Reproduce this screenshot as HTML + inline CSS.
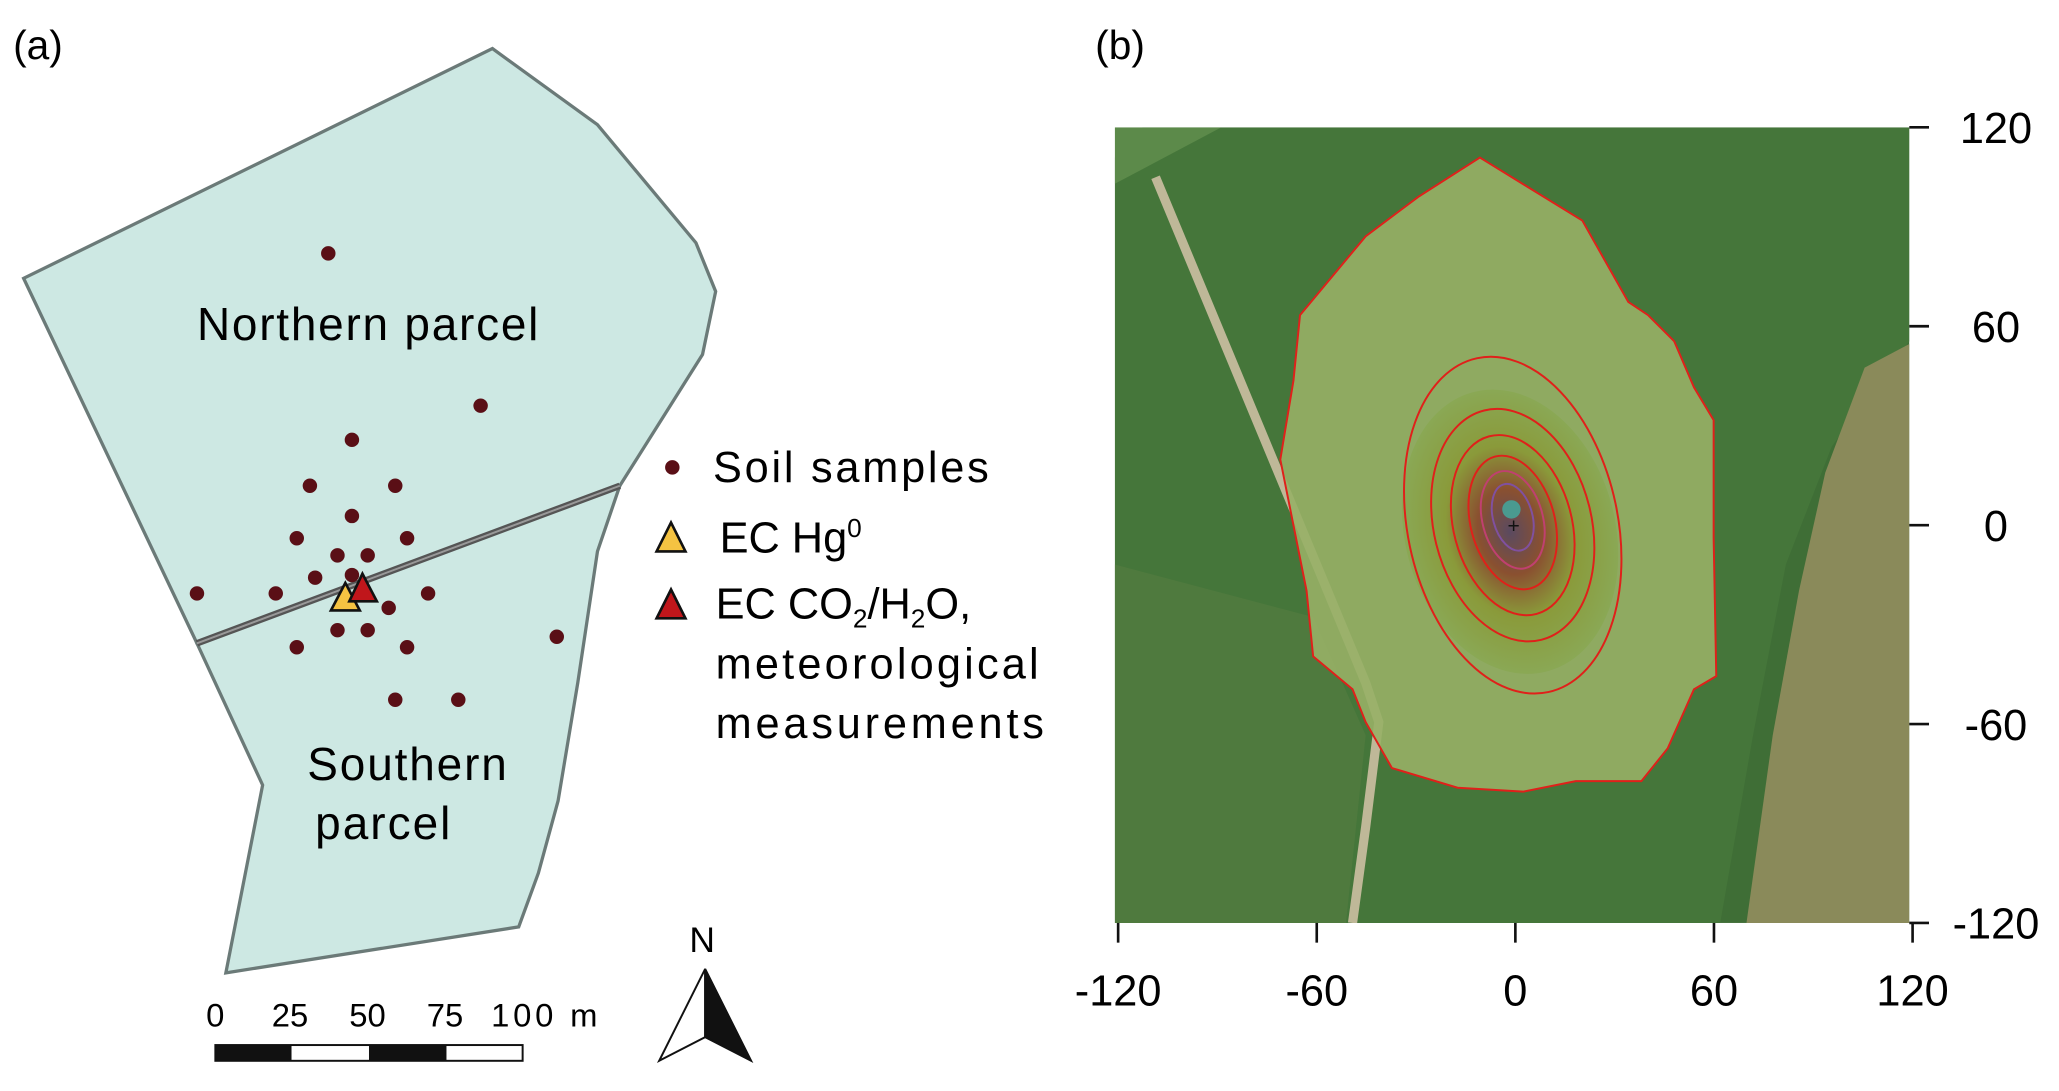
<!DOCTYPE html>
<html><head><meta charset="utf-8"><style>
html,body{margin:0;padding:0;background:#fff;}
svg{display:block;font-family:"Liberation Sans",sans-serif;}
</style></head><body>
<svg id="fig" width="2059" height="1091" viewBox="0 0 1568 831" preserveAspectRatio="none">
<text x="10" y="45" font-size="31">(a)</text>
<text x="834" y="45" font-size="31">(b)</text>
<g>
<polygon points="18,212 375,37 455,95 530,185 545,222 535,270 472,370 150,490" fill="#cde8e3" stroke="#6b7a78" stroke-width="2.5"/>
<polygon points="150,490 472,370 455,420 440,520 425,610 410,665 395,706 172,741 200,598" fill="#cde8e3" stroke="#6b7a78" stroke-width="2.5"/>
<line x1="150" y1="490" x2="472" y2="370" stroke="#555" stroke-width="5"/>
<line x1="150" y1="490" x2="472" y2="370" stroke="#999" stroke-width="1.5"/>
<text x="150" y="259" font-size="35" textLength="260">Northern parcel</text>
<text x="234" y="594" font-size="35" textLength="152">Southern</text>
<text x="240" y="639" font-size="35" textLength="103">parcel</text>
<g id="samples"></g>
<polygon points="263,444 252,465 274,465" fill="#f5c342" stroke="#111" stroke-width="2"/>
<polygon points="276,437 266,458 287,458" fill="#c0161b" stroke="#111" stroke-width="2"/>
</g>
<g>
<circle cx="512" cy="356" r="5.5" fill="#5a0f16"/>
<text x="543" y="367" font-size="33" textLength="210">Soil samples</text>
<polygon points="511,398 500,420 522,420" fill="#f5c342" stroke="#111" stroke-width="2"/>
<text x="548" y="421" font-size="33">EC Hg<tspan dy="-12" font-size="20">0</tspan></text>
<polygon points="511,449 500,471 522,471" fill="#c0161b" stroke="#111" stroke-width="2"/>
<text x="545" y="471" font-size="33">EC CO<tspan dy="7" font-size="20">2</tspan><tspan dy="-7">/H</tspan><tspan dy="7" font-size="20">2</tspan><tspan dy="-7">O,</tspan></text>
<text x="545" y="517" font-size="33" textLength="246">meteorological</text>
<text x="545" y="562" font-size="33" textLength="250">measurements</text>
</g>
<g font-size="25">
<text x="157" y="782">0</text><text x="207" y="782">25</text><text x="266" y="782">50</text><text x="325" y="782">75</text><text x="374" y="782" textLength="81">100 m</text>
<rect x="164" y="796" width="234" height="12" fill="#fff" stroke="#111" stroke-width="1.5"/>
<rect x="164" y="796" width="58" height="12" fill="#111"/>
<rect x="281" y="796" width="59" height="12" fill="#111"/>
</g>
<g>
<text x="525" y="725" font-size="27">N</text>
<polygon points="537,738 502,808 537,790" fill="#fff" stroke="#111" stroke-width="1.5"/>
<polygon points="537,738 572,808 537,790" fill="#111" stroke="#111" stroke-width="1.5"/>
</g>
<g>
<defs>
<clipPath id="mc"><rect x="849" y="97" width="605" height="606"/></clipPath>
<radialGradient id="fp" cx="0.5" cy="0.5" r="0.5">
<stop offset="0" stop-color="#5a4a60"/><stop offset="0.3" stop-color="#8a5030"/><stop offset="0.6" stop-color="#8a9a3a"/><stop offset="1" stop-color="#8aa855"/>
</radialGradient>
</defs>
<g clip-path="url(#mc)">
<rect x="849" y="97" width="605" height="606" fill="#3f6e36"/>
<polygon points="849,120 870,97 1454,97 1454,260 1395,340 1360,430 1335,560 1310,703 849,703" fill="#45763a"/>
<polygon points="849,97 930,97 849,140" fill="#5c8a4a"/>
<polygon points="1454,262 1420,280 1390,360 1370,450 1350,560 1330,703 1454,703" fill="#8a8a5a"/>
<polygon points="849,430 1000,470 1040,560 1025,703 849,703" fill="#4f7a3e"/>
<polyline points="880,135 1040,520 1050,550 1040,630 1030,703" fill="none" stroke="#bfb898" stroke-width="7"/>
<path d="M1127,120 L1205,168 L1240,230 L1255,240 L1275,260 L1290,295 L1305,320 L1305,410 L1307,515 L1290,525 L1270,570 L1250,595 L1200,595 L1160,603 L1110,600 L1060,585 L1040,550 L1030,525 L1000,500 L995,450 L985,400 L975,350 L985,290 L990,240 L1040,180 L1080,150 Z" fill="#97b066" fill-opacity="0.9" stroke="#e0201a" stroke-width="1.5"/>
<ellipse cx="1150" cy="405" rx="80" ry="110" fill="url(#fp)" transform="rotate(-15 1150 405)"/>
<g fill="none" stroke="#e0201a" stroke-width="1.5">
<ellipse cx="1152" cy="400" rx="80" ry="130" transform="rotate(-12 1152 400)"/>
<ellipse cx="1152" cy="400" rx="60" ry="90" transform="rotate(-14 1152 400)"/>
<ellipse cx="1152" cy="400" rx="45" ry="70" transform="rotate(-15 1152 400)"/>
<ellipse cx="1152" cy="398" rx="32" ry="52" transform="rotate(-15 1152 398)"/>
<ellipse cx="1152" cy="396" rx="23" ry="38" transform="rotate(-15 1152 396)" stroke="#c04070"/>
<ellipse cx="1152" cy="394" rx="15" ry="26" transform="rotate(-15 1152 394)" stroke="#8050a0"/>
</g>
<circle cx="1151" cy="388" r="7" fill="#4a9a90"/>
<text x="1148" y="406" font-size="16" fill="#111">+</text>
</g>
</g>
<g id="axes" font-size="33"></g>
</svg>
<script>
var sampleX=[250,366,268,236,301,268,226,257,280,310,240,268,150,210,296,326,226,257,280,310,424,301,349];
var sampleY=[193,309,335,370,370,393,410,423,423,410,440,438,452,452,463,452,493,480,480,493,485,533,533];
var xTicks=[-120,-60,0,60,120];
var yTicks=[120,60,0,-60,-120];
var NS="http://www.w3.org/2000/svg";
var sg=document.getElementById('samples');
for(var i=0;i<sampleX.length;i++){
 var c=document.createElementNS(NS,'circle');
 c.setAttribute('cx',sampleX[i]);c.setAttribute('cy',sampleY[i]);c.setAttribute('r',5.5);c.setAttribute('fill','#5a0f16');
 
 
 sg.appendChild(c);
}
var ax=document.getElementById('axes');
function xs(v){return 1154+v*(1454-849)/240;}
function ys(v){return 400-v*(703-97)/240;}
for(var j=0;j<xTicks.length;j++){
 var t=xTicks[j];
 var l=document.createElementNS(NS,'line');
 l.setAttribute('x1',xs(t));l.setAttribute('x2',xs(t));l.setAttribute('y1',703);l.setAttribute('y2',718);l.setAttribute('stroke','#111');l.setAttribute('stroke-width',2);
 
 
 ax.appendChild(l);
 var tx=document.createElementNS(NS,'text');
 tx.setAttribute('x',xs(t));tx.setAttribute('y',766);tx.setAttribute('text-anchor','middle');tx.textContent=String(t);
 
 
 ax.appendChild(tx);
}
for(var k=0;k<yTicks.length;k++){
 var u=yTicks[k];
 var l2=document.createElementNS(NS,'line');
 l2.setAttribute('x1',1454);l2.setAttribute('x2',1469);l2.setAttribute('y1',ys(u));l2.setAttribute('y2',ys(u));l2.setAttribute('stroke','#111');l2.setAttribute('stroke-width',2);
 
 
 ax.appendChild(l2);
 var ty=document.createElementNS(NS,'text');
 ty.setAttribute('x',1520);ty.setAttribute('y',ys(u)+12);ty.setAttribute('text-anchor','middle');ty.textContent=String(u);
 
 
 ax.appendChild(ty);
}
</script>
</body></html>
